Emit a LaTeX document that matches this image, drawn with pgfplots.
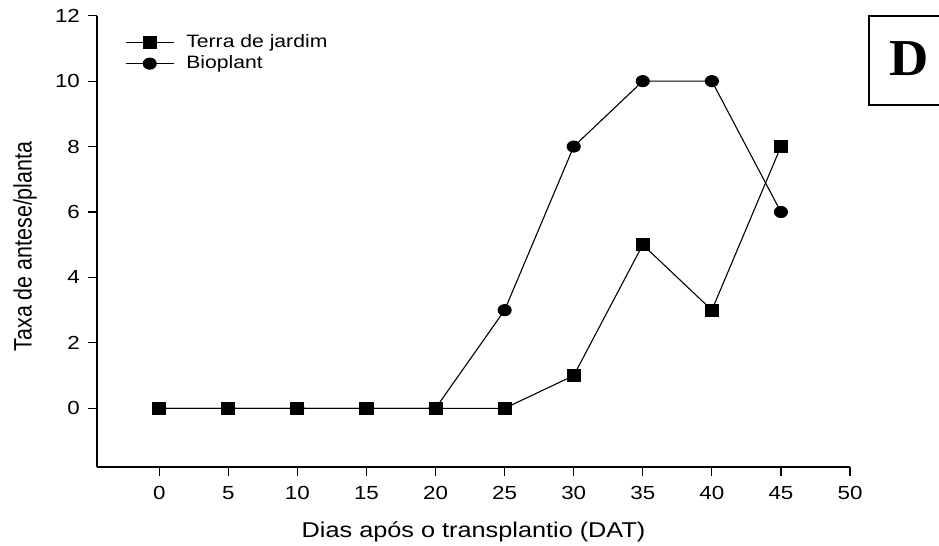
\documentclass[border=0pt]{standalone}
\usepackage{fontspec}
\setmainfont{Liberation Sans}[FakeStretch=1.18]
\newfontfamily\plainfont{Liberation Sans}
\newfontfamily\dfont{Liberation Serif}[FakeStretch=1.05]
\usepackage{pgfplots}
\pgfplotsset{compat=1.18}
\begin{document}
\begin{tikzpicture}
\path[use as bounding box] (0,0) rectangle (939bp,546bp);
\begin{axis}[
  at={(97.1bp,78.8bp)}, anchor=south west,
  scale only axis, width=752.9bp, height=451.5bp,
  xmin=-4.5, xmax=50, ymin=-1.8, ymax=12,
  axis lines*=left,
  axis line style={line width=1.4bp, black},
  xtick={0,5,...,50}, ytick={0,2,...,12},
  tick align=outside, major tick length=9bp,
  tick style={line width=1.2bp, black},
  /pgf/number format/assume math mode=true,
  ticklabel style={font=\fontsize{19}{21}\selectfont},
  xticklabel style={inner sep=0pt, yshift=-10bp},
  yticklabel style={inner sep=0pt, xshift=-8bp},
  xlabel={Dias após o transplantio (DAT)},
  ylabel={Taxa de antese/planta},
  xlabel style={font=\fontsize{21.5}{24}\selectfont, at={(axis description cs:0.5,-0.1568)}, anchor=base},
  ylabel style={font=\fontsize{21.5}{24}\selectfont\plainfont, at={(axis description cs:-0.087,0.489)}, anchor=base, yscale=1.18},
  legend style={at={(axis description cs:0.0331,0.964)}, anchor=north west, draw=none, fill=none,
    font=\fontsize{18}{20}\selectfont, row sep=4bp,
    nodes={inner sep=0pt, text height=13bp, text depth=4bp},
    column sep=0pt},
  legend cell align=left,
  legend image code/.code={\draw[mark repeat=2,mark phase=2] plot coordinates {(0bp,0bp)(24bp,0bp)(48bp,0bp)}; \path (60bp,0bp);},
  reverse legend,
  clip=false,
]
\addplot[black, line width=1.1bp, mark=*, mark size=5.5bp, mark options={xscale=1.18, solid}] coordinates {
 (0,0) (5,0) (10,0) (15,0) (20,0) (25,3) (30,8) (35,10) (40,10) (45,6)};
\addlegendentry{Bioplant}
\addplot[black, line width=1.1bp, mark=square*, mark size=6bp, mark options={xscale=1.08, solid}] coordinates {
 (0,0) (5,0) (10,0) (15,0) (20,0) (25,0) (30,1) (35,5) (40,3) (45,8)};
\addlegendentry{Terra de jardim}
\end{axis}
\draw[line width=2bp] (945bp,530bp) -- (869bp,530bp) -- (869bp,441bp) -- (945bp,441bp);
\node[inner sep=0pt] at (908.7bp,487.7bp) {\fontsize{52}{52}\selectfont\dfont\bfseries D};
\end{tikzpicture}
\end{document}
